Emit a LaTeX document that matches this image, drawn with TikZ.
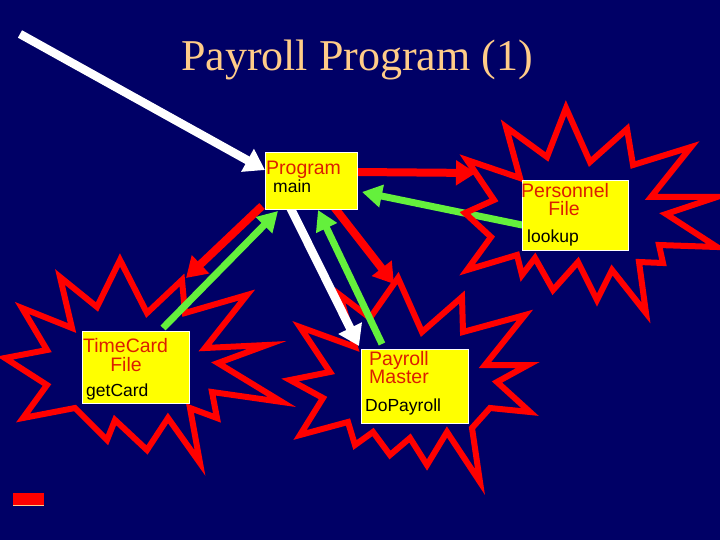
\documentclass[tikz,border=0pt]{standalone}
\usepackage{fontspec}
\setmainfont{Liberation Serif}
\setsansfont{Liberation Sans}
\usetikzlibrary{arrows.meta}
\definecolor{bg}{RGB}{0,0,102}
\definecolor{titlec}{RGB}{255,204,136}
\definecolor{starred}{RGB}{255,0,0}
\definecolor{lblred}{RGB}{220,30,0}
\definecolor{grn}{RGB}{100,240,60}
\definecolor{boxy}{RGB}{255,255,0}
\begin{document}
\begin{tikzpicture}[x=1pt,y=-1pt,
  starline/.style={draw=starred, line width=6pt, line join=miter, miter limit=8},
  box/.style={draw=white, line width=1pt, fill=boxy, inner sep=0pt, anchor=north west},
  redlbl/.style={font=\sffamily\fontsize{19.5}{19.5}\selectfont, text=lblred, inner sep=0pt},
  blklbl/.style={font=\sffamily\fontsize{17.5}{17.5}\selectfont, text=black, inner sep=0pt, anchor=base west},
  whitearr/.style={draw=white, line width=8.5pt, -{Triangle[length=20pt,width=25pt]}},
  redarr/.style={draw=starred, line width=8pt, -{Triangle[length=20pt,width=24pt]}},
  grnarr/.style={draw=grn, line width=7pt, -{Triangle[length=20pt,width=22pt]}}
]
\fill[bg] (0,0) rectangle (720,540);
\useasboundingbox (0,0) rectangle (720,540);

% title
\node[font=\fontsize{44}{44}\selectfont, text=titlec, anchor=base, inner sep=0pt] (title) at (357,71) {Payroll Program (1)};

% stars
\draw[starline] (120,260) -- (147,313) -- (182,280) -- (185,313) -- (247,295) -- (205,348) -- (267,345) -- (218,363) -- (282,402) -- (212,392) -- (217,418) -- (190,408) -- (200,463) -- (168,418) -- (147,450) -- (115,420) -- (107,440) -- (75,408) -- (23,418) -- (47,385) -- (5,358) -- (47,350) -- (22,308) -- (72,328) -- (60,277) -- (97,307) -- cycle;

\draw[starline] (398,278) -- (422,332) -- (462,297) -- (463,332) -- (525,315) -- (485,365) -- (528,365) -- (497,382) -- (530,412) -- (490,408) -- (472,428) -- (480,482) -- (447,432) -- (427,465) -- (410,438) -- (390,455) -- (373,432) -- (355,445) -- (348,422) -- (300,435) -- (323,398) -- (290,380) -- (330,372) -- (300,327) -- (355,347) -- (340,295) -- (370,318) -- cycle;

% coordinates for connector ends
\coordinate (wstart) at (20,34);
\coordinate (lookupL) at (527,226);
\coordinate (progR) at (357,172);
\coordinate (persL) at (476,173);
\coordinate (progBL) at (262,206);
\coordinate (tcTip) at (186,278);
\coordinate (progB) at (334,207);
\coordinate (pmTip) at (394,284);
\coordinate (progBw) at (290,207);
\coordinate (pmTL) at (359,346);
\coordinate (tcTop) at (163,328);
\coordinate (progIn1) at (278,211);
\coordinate (pmTop) at (382,344);
\coordinate (progIn2) at (318,210);
\coordinate (progIn3) at (362,192);
\coordinate (progL) at (265,170);

\draw[grnarr] (lookupL) -- (progIn3);

\draw[starline] (566,108) -- (590,162) -- (627,129) -- (633,165) -- (691,147) -- (651,197) -- (717,197) -- (666,214) -- (717,247) -- (659,245) -- (663,263) -- (639,262) -- (646,313) -- (612,270) -- (597,300) -- (578,262) -- (553,290) -- (535,258) -- (522,275) -- (517,255) -- (467,270) -- (491,237) -- (465,213) -- (494,200) -- (467,160) -- (520,178) -- (506,127) -- (547,157) -- cycle;

% connectors
\draw[whitearr] (wstart) -- (progL);
\draw[redarr] (progR) -- (persL);
\draw[redarr] (progBL) -- (tcTip);
\draw[redarr] (progB) -- (pmTip);
\draw[grnarr] (tcTop) -- (progIn1);
\draw[grnarr] (pmTop) -- (progIn2);
\draw[whitearr] (progBw) -- (pmTL);

% boxes
\node[box, minimum width=92pt, minimum height=57pt] (prog) at (265,152) {};
\node[box, minimum width=106pt, minimum height=70pt] (pers) at (522,180) {};
\node[box, minimum width=107pt, minimum height=72pt] (tc) at (82,331) {};
\node[box, minimum width=107pt, minimum height=74pt] (pm) at (361,349) {};

% labels
\node[redlbl, anchor=base west] (progT) at (266,175) {Program};
\node[blklbl] (progM) at (273,193) {main};
\node[redlbl, anchor=base west] (persT) at (521,197) {Personnel};
\node[redlbl, anchor=base] (persF) at (564,215) {File};
\node[blklbl] (persM) at (527,242) {lookup};
\node[redlbl, anchor=base west] (tcT) at (83,352) {TimeCard};
\node[redlbl, anchor=base] (tcF) at (126,371) {File};
\node[blklbl] (tcM) at (86,396) {getCard};
\node[redlbl, anchor=base west] (pmT) at (369,365) {Payroll};
\node[redlbl, anchor=base west] (pmT2) at (369,383) {Master};
\node[blklbl] (pmM) at (365,411) {DoPayroll};

% small red bar
\fill[starred] (13,493) rectangle (44,505);
\draw[titlec, line width=1pt] (13,505.5) -- (44,505.5);
\end{tikzpicture}
\end{document}
